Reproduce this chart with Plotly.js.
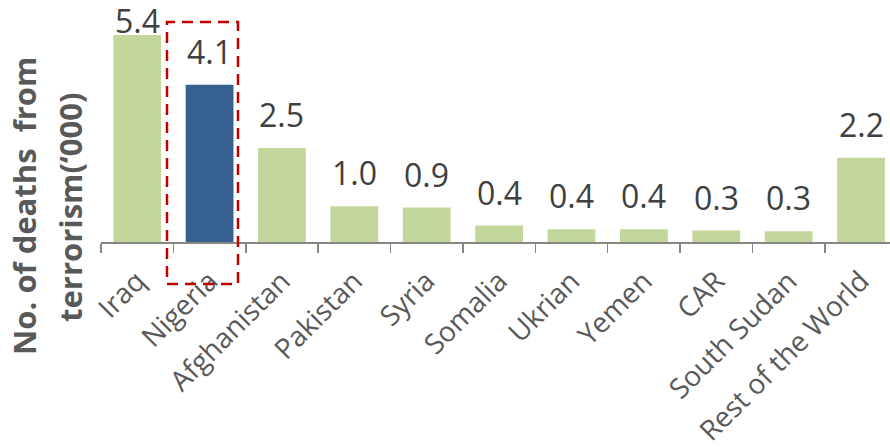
<!DOCTYPE html>
<html>
<head>
<meta charset="utf-8">
<script src="https://cdn.plot.ly/plotly-3.0.1.min.js"></script>
<style>html,body{margin:0;padding:0;background:#fff;}#chart{width:890px;height:448px;}</style>
</head>
<body>
<div id="chart"></div>
<script>
const categories = ["Iraq", "Nigeria", "Afghanistan", "Pakistan", "Syria", "Somalia", "Ukrian", "Yemen", "CAR", "South Sudan", "Rest of the World"];
const deaths = [5.4, 4.1, 2.45, 0.93, 0.9, 0.43, 0.33, 0.33, 0.3, 0.28, 2.2];
const valueLabels = ["5.4", "4.1", "2.5", "1.0", "0.9", "0.4", "0.4", "0.4", "0.3", "0.3", "2.2"];
const highlighted = "Nigeria";
const titleLines = ["No. of deaths\u00a0 from", "terrorism(\u2018000)"];

const barColors = categories.map(c => c === highlighted ? "#35608f" : "#c3d69b");

const Y_MAX = 6;
const PX_PER_UNIT = 230 / Y_MAX;

const trace = {
  type: "bar",
  x: categories,
  y: deaths,
  marker: {color: barColors},
  width: 0.66,
  hoverinfo: "skip"
};

// value labels placed above bars; kept inside the canvas near the top
const labelAnnotations = categories.map((c, i) => ({
  x: c, y: deaths[i], xref: "x", yref: "y",
  text: valueLabels[i], showarrow: false,
  xanchor: "center", yanchor: "bottom",
  yshift: Math.min(10, (5.68 - deaths[i]) * PX_PER_UNIT - 20),
  font: {family: "Open Sans", size: 32, color: "#404040"}
}));

const titleFont = {family: "Open Sans", size: 31, color: "#595959", weight: 700};

const layout = {
  width: 890, height: 448,
  margin: {l: 101, r: 0, t: 12, b: 206},
  paper_bgcolor: "#fff", plot_bgcolor: "#fff",
  showlegend: false,
  xaxis: {
    type: "category",
    range: [-0.5, categories.length - 0.6],
    showline: true, linecolor: "#868686", linewidth: 1.5,
    ticks: "outside", tickson: "boundaries", ticklen: 9, tickcolor: "#868686", tickwidth: 1.5,
    tickangle: -45,
    ticklabelstandoff: 10,
    tickfont: {family: "Open Sans", size: 28, color: "#595959"},
    showgrid: false, zeroline: false, fixedrange: true
  },
  yaxis: {
    range: [0, Y_MAX],
    visible: false, showgrid: false, zeroline: false, fixedrange: true
  },
  annotations: labelAnnotations.concat([
    {
      text: titleLines[0], xref: "paper", yref: "paper",
      x: (24 - 101) / 789, y: 0.157, xanchor: "center", yanchor: "middle",
      textangle: -90, showarrow: false, font: titleFont
    },
    {
      text: titleLines[1], xref: "paper", yref: "paper",
      x: (70 - 101) / 789, y: 0.148, xanchor: "center", yanchor: "middle",
      textangle: -90, showarrow: false, font: titleFont
    }
  ]),
  shapes: [
    {
      type: "rect", xref: "paper", yref: "paper",
      x0: (167 - 101) / 789, x1: (238 - 101) / 789,
      y0: (242 - 284) / 230, y1: (242 - 22) / 230,
      line: {color: "#c00000", width: 2.5, dash: "11px,7px"},
      fillcolor: "rgba(0,0,0,0)", layer: "above"
    }
  ]
};

Plotly.newPlot("chart", [trace], layout, {displayModeBar: false, staticPlot: true});
</script>
</body>
</html>
